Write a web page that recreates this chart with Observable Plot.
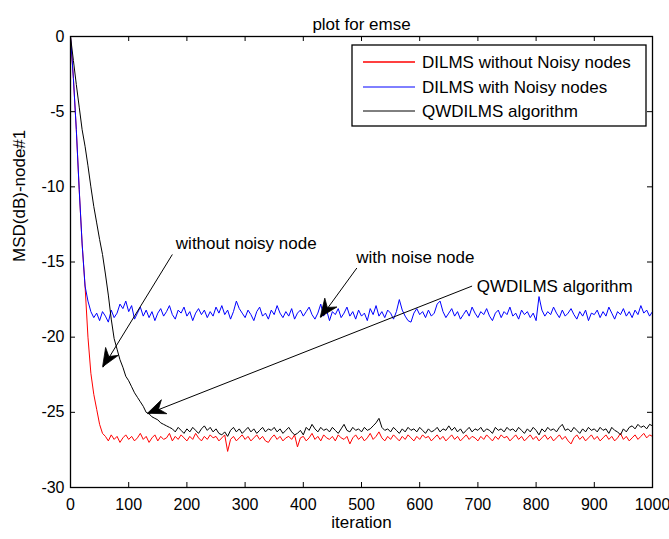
<!DOCTYPE html>
<html>
<head>
<meta charset="utf-8">
<script src="https://cdn.jsdelivr.net/npm/d3@7"></script>
<script src="https://cdn.jsdelivr.net/npm/@observablehq/plot@0.6"></script>
<style>
  html, body { margin: 0; padding: 0; background: #fff; }
  #chart svg { display: block; }
</style>
</head>
<body>
<div id="chart"></div>
<script>
// ---- data ----
const titleText = "plot for emse";
const xLabel = "iteration";
const yLabel = "MSD(dB)-node#1";
const xTicks = [0, 100, 200, 300, 400, 500, 600, 700, 800, 900, 1000];
const yTicks = [-30, -25, -20, -15, -10, -5, 0];
const seriesNames = ["DILMS without Noisy nodes", "DILMS with Noisy nodes", "QWDILMS algorithm"];
const seriesColors = ["#ff0000", "#0000ff", "#000000"];

// iteration grid (every 5 iterations)
const iteration = d3.range(0, 1001, 5);

const withoutNoisy = [
  0, -2.8, -6.2, -10.2, -13.8, -16.6, -20.0, -22.4, -23.8, -24.8,
  -25.8, -26.4, -26.6, -26.9, -26.5, -26.8, -26.6, -27.0, -26.7, -26.5,
  -26.8, -26.6, -26.9, -26.7, -26.4, -26.8, -26.6, -27.0, -26.7, -26.5,
  -26.9, -26.6, -26.8, -26.7, -26.4, -26.9, -26.6, -26.8, -26.5, -26.7,
  -26.9, -26.6, -26.8, -26.4, -26.7, -26.9, -26.6, -26.8, -26.5, -26.7,
  -26.6, -26.9, -26.7, -26.5, -27.6, -26.8, -26.6, -26.9, -26.7, -26.5,
  -26.8, -26.6, -26.9, -26.7, -26.5, -26.8, -26.6, -26.9, -27.0, -26.7,
  -26.5, -26.8, -26.6, -26.9, -26.7, -26.6, -26.8, -26.5, -27.3, -26.7,
  -26.6, -26.9, -26.7, -26.4, -26.8, -26.6, -26.9, -26.5, -26.7, -26.8,
  -26.6, -26.9, -26.5, -26.7, -26.8, -26.6, -27.1, -26.7, -26.5, -26.8,
  -26.6, -26.9, -26.7, -26.4, -26.8, -26.6, -26.3, -26.7, -26.9, -26.6,
  -26.8, -26.5, -26.7, -26.9, -26.6, -26.8, -26.5, -26.7, -26.9, -26.6,
  -26.8, -26.5, -26.7, -26.6, -26.9, -26.7, -26.5, -26.8, -26.6, -26.9,
  -26.7, -26.5, -26.8, -26.6, -26.9, -26.7, -26.5, -26.8, -26.6, -26.7,
  -26.9, -26.6, -26.8, -26.5, -26.7, -26.9, -26.6, -26.8, -26.5, -26.7,
  -26.6, -26.9, -26.7, -26.5, -26.8, -26.6, -26.9, -26.7, -26.5, -26.8,
  -26.6, -26.9, -26.7, -26.5, -26.8, -26.6, -26.9, -26.7, -26.5, -26.8,
  -26.6, -26.9, -27.1, -26.7, -26.5, -26.8, -26.6, -26.9, -26.7, -26.5,
  -26.8, -26.6, -26.9, -26.7, -26.5, -26.8, -26.6, -26.9, -26.7, -26.4,
  -26.8, -26.6, -26.9, -26.7, -26.5, -26.8, -26.6, -26.4, -26.7, -26.5,
  -26.6
];

const withNoisy = [
  0, -2.8, -6.2, -10.2, -13.8, -16.6, -17.6, -18.3, -18.7, -18.4,
  -18.9, -18.3, -18.6, -19.0, -18.2, -18.7, -18.4, -17.8, -18.1, -17.6,
  -18.3, -17.9, -18.8, -18.4, -18.0, -18.6, -18.2, -18.7, -18.3, -18.9,
  -18.4, -18.1, -18.6, -18.3, -17.9, -18.5, -18.8, -18.2, -18.4, -18.0,
  -18.6, -18.3, -18.9, -18.4, -18.1, -18.5, -18.2, -18.7, -18.3, -18.6,
  -18.0, -18.4, -17.9, -18.5, -18.2, -18.8, -18.3, -17.6, -18.1, -18.4,
  -18.7, -18.2, -18.5, -18.9, -18.3, -18.0, -18.6, -18.4, -18.8, -18.2,
  -18.5, -17.9, -18.4, -18.7, -18.3, -18.6, -18.1, -18.8, -18.4, -18.2,
  -18.6, -18.3, -18.0, -18.5, -18.8, -18.4, -17.8, -18.6, -18.2, -18.9,
  -18.3, -18.5, -18.1, -18.7, -18.4, -18.0, -18.6, -18.3, -18.8, -18.2,
  -18.6, -18.4, -18.9, -18.1, -18.5, -17.9, -18.6, -18.3, -18.7, -18.2,
  -18.4, -18.8, -18.3, -17.5, -18.2, -18.6, -18.9, -19.0, -18.4, -18.1,
  -18.5, -18.3, -18.7, -18.2, -18.6, -18.4, -17.8, -17.6, -18.3, -18.7,
  -18.4, -18.1, -18.6, -18.3, -18.8, -18.5, -18.2, -18.6, -18.0, -18.4,
  -18.7, -18.3, -18.5, -18.1, -18.6, -18.9, -18.4, -18.2, -18.7, -18.3,
  -18.5, -18.0, -18.6, -18.4, -18.8, -18.2, -18.5, -18.3, -18.7, -18.4,
  -18.9, -17.3, -18.2, -18.6, -18.3, -18.5, -18.0, -18.4, -18.7, -18.2,
  -18.6, -18.4, -18.1, -18.5, -18.8, -18.3, -18.6, -18.2, -18.9, -18.4,
  -18.5, -18.2, -18.7, -18.3, -18.6, -18.0, -18.4, -18.8, -18.3, -18.5,
  -18.1, -18.6, -18.3, -18.7, -18.2, -18.5, -17.9, -18.4, -18.2, -18.6,
  -18.3
];

const qwdilms = [
  0, -1.6, -3.2, -4.7, -6.2, -7.3, -8.6, -10.0, -11.3, -12.4,
  -13.5, -14.5, -15.8, -17.2, -18.8, -20.1, -20.8, -21.5, -22.0, -22.6,
  -22.9, -23.3, -23.7, -24.0, -24.3, -24.6, -25.0, -25.1, -25.3, -25.4,
  -25.5, -25.7, -25.8, -25.9, -26.0, -26.1, -26.3, -26.0, -26.2, -26.4,
  -26.1, -26.3, -26.0, -26.2, -26.4, -26.1, -25.9, -26.2, -26.0, -26.3,
  -26.1, -26.4, -26.5, -26.3, -26.6, -26.2, -26.0, -26.3, -26.1, -26.4,
  -26.2, -26.0, -26.3, -26.1, -26.4, -26.2, -26.0, -26.3, -26.1, -26.2,
  -26.0, -26.3, -26.1, -26.4, -26.2, -26.0, -26.3, -26.5, -26.4, -26.2,
  -26.5, -26.0, -26.2, -25.8, -26.1, -26.3, -26.0, -26.2, -26.1, -26.3,
  -26.0, -26.2, -26.4, -26.1, -25.8, -26.2, -26.3, -26.0, -26.2, -26.1,
  -26.3, -26.0, -26.2, -26.1, -25.9, -25.7, -25.4, -26.0, -26.2, -26.1,
  -26.3, -26.0, -26.2, -26.4, -26.1, -26.3, -26.0, -26.2, -26.1, -26.3,
  -26.0, -26.2, -26.4, -26.1, -26.3, -26.2, -26.0, -26.3, -26.1, -26.2,
  -25.9, -26.2, -26.0, -26.3, -26.1, -26.4, -26.2, -26.0, -26.3, -26.1,
  -26.2, -26.0, -26.3, -26.1, -26.2, -26.4, -26.0, -26.2, -26.1, -26.3,
  -26.0, -26.2, -26.1, -26.3, -26.0, -26.2, -26.4, -26.1, -26.3, -26.0,
  -26.2, -26.5, -26.1, -26.3, -26.0, -26.2, -26.1, -26.3, -26.0, -25.8,
  -26.2, -26.1, -26.3, -26.0, -26.2, -26.4, -26.1, -26.3, -26.0, -26.2,
  -26.1, -26.3, -26.0, -26.2, -26.1, -26.4, -26.0, -26.2, -26.3, -26.5,
  -26.1, -26.3, -26.0, -25.9, -26.1, -25.8, -26.0, -25.9, -26.1, -25.8,
  -25.9
];

// annotation texts and arrows (data coordinates)
const annLabels = ["without noisy node", "with noise node", "QWDILMS algorithm"];
const annTextX = [181, 491, 698];
const annTextY = [-13.8, -14.7, -16.6];
const annFromX = [175, 492, 690];
const annFromY = [-14.5, -15.4, -16.6];
const annToX = [56, 430, 133];
const annToY = [-22.0, -18.7, -25.1];

// ---- build tables ----
const seriesValues = [withoutNoisy, withNoisy, qwdilms];
const lines = seriesValues.map((vals, k) =>
  iteration.map((it, i) => ({x: it, y: vals[i], s: seriesNames[k]})));
const annotations = annLabels.map((label, i) => ({
  label, tx: annTextX[i], ty: annTextY[i],
  x1: annFromX[i], y1: annFromY[i], x2: annToX[i], y2: annToY[i]
}));

const W = 669, H = 539;
const mL = 70, mR = 17, mT = 36, mB = 52;
const innerW = W - mL - mR, innerH = H - mT - mB;
const font = "'Liberation Sans', Arial, Helvetica, sans-serif";

const plot = Plot.plot({
  width: W, height: H,
  marginLeft: mL, marginRight: mR, marginTop: mT, marginBottom: mB,
  style: {fontFamily: font, fontSize: "16px", color: "#000", background: "#fff", overflow: "visible"},
  x: {domain: [0, 1000], ticks: xTicks, tickSize: 0, tickPadding: 11, label: null, tickFormat: d => String(d)},
  y: {domain: [-30, 0], ticks: yTicks, tickSize: 0, tickPadding: 6, label: null, tickFormat: d => String(d)},
  marks: [
    Plot.line(lines[0], {x: "x", y: "y", stroke: seriesColors[0], strokeWidth: 1}),
    Plot.line(lines[1], {x: "x", y: "y", stroke: seriesColors[1], strokeWidth: 1}),
    Plot.line(lines[2], {x: "x", y: "y", stroke: seriesColors[2], strokeWidth: 1}),
    // inward ticks on all four sides
    Plot.tickX(xTicks, {x: d => d, insetTop: innerH - 5, stroke: "#000"}),
    Plot.tickX(xTicks, {x: d => d, insetBottom: innerH - 5, stroke: "#000"}),
    Plot.tickY(yTicks, {y: d => d, insetRight: innerW - 5, stroke: "#000"}),
    Plot.tickY(yTicks, {y: d => d, insetLeft: innerW - 5, stroke: "#000"}),
    Plot.frame({stroke: "#000", strokeWidth: 1.3}),
    // annotation arrows and labels
    Plot.link(annotations, {x1: "x1", y1: "y1", x2: "x2", y2: "y2", stroke: "#000", strokeWidth: 1}),
    Plot.text(annotations, {x: "tx", y: "ty", text: "label", textAnchor: "start", fontSize: 17, fill: "#000"}),
    // title and axis labels
    Plot.text([titleText], {frameAnchor: "top", dy: -19, fontSize: 17, fill: "#000"}),
    Plot.text([xLabel], {frameAnchor: "bottom", dy: 40, fontSize: 17, fill: "#000"}),
    Plot.text([yLabel], {frameAnchor: "left", dx: -51, rotate: -90, fontSize: 17, fill: "#000"})
  ]
});

document.getElementById("chart").appendChild(plot);

// arrowheads via the plot's own scales
const sx = plot.scale("x"), sy = plot.scale("y");
const svg = d3.select(plot);
annotations.forEach(a => {
  const x1 = sx.apply(a.x1), y1 = sy.apply(a.y1);
  const x2 = sx.apply(a.x2), y2 = sy.apply(a.y2);
  const ang = Math.atan2(y2 - y1, x2 - x1);
  const L = 18, hw = 7.5, notch = 12;
  const ux = Math.cos(ang), uy = Math.sin(ang);
  const px = -uy, py = ux;
  const pts = [
    [x2, y2],
    [x2 - L * ux + hw * px, y2 - L * uy + hw * py],
    [x2 - notch * ux, y2 - notch * uy],
    [x2 - L * ux - hw * px, y2 - L * uy - hw * py]
  ];
  svg.append("polygon").attr("points", pts.map(p => p.join(",")).join(" "))
    .attr("fill", "#000").attr("stroke", "#000").attr("stroke-width", 0.8);
});

// legend (MATLAB style box)
const lg = svg.append("g").attr("font-family", font).attr("font-size", 17).attr("text-anchor", "start");
lg.append("rect").attr("x", 352).attr("y", 45).attr("width", 294).attr("height", 81)
  .attr("fill", "#fff").attr("stroke", "#000").attr("stroke-width", 1.3);
const rowY = [62, 87, 111];
seriesNames.forEach((name, i) => {
  lg.append("line").attr("x1", 363).attr("x2", 415).attr("y1", rowY[i]).attr("y2", rowY[i])
    .attr("stroke", seriesColors[i]).attr("stroke-width", i === 0 ? 1.5 : 1);
  lg.append("text").attr("x", 422).attr("y", rowY[i]).attr("dy", "0.35em")
    .attr("text-anchor", "start").attr("fill", "#000").text(name);
});
</script>
</body>
</html>
